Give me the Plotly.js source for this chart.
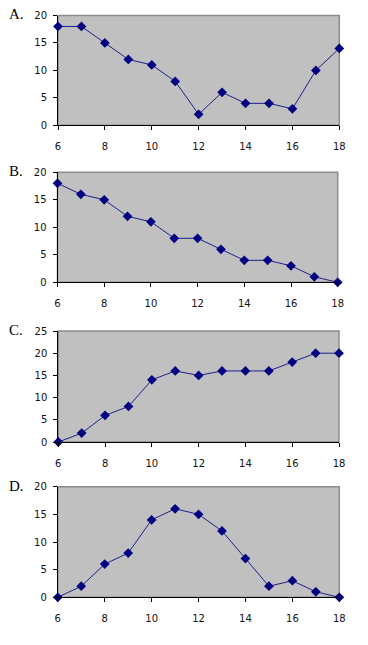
<!DOCTYPE html>
<html>
<head>
<meta charset="utf-8">
<script src="https://cdn.plot.ly/plotly-3.0.1.min.js"></script>
<style>
html,body{margin:0;padding:0;background:#fff;}
#chart{width:368px;height:645px;}
</style>
</head>
<body>
<div id="chart"></div>
<script>
const xValues = [6, 7, 8, 9, 10, 11, 12, 13, 14, 15, 16, 17, 18];
const seriesA = [18, 18, 15, 12, 11, 8, 2, 6, 4, 4, 3, 10, 14];
const seriesB = [18, 16, 15, 12, 11, 8, 8, 6, 4, 4, 3, 1, 0];
const seriesC = [0, 2, 6, 8, 14, 16, 15, 16, 16, 16, 18, 20, 20];
const seriesD = [0, 2, 6, 8, 14, 16, 15, 12, 7, 2, 3, 1, 0];
const panelLabels = ["A.", "B.", "C.", "D."];
const yMax = [20, 20, 25, 20];

const allSeries = [seriesA, seriesB, seriesC, seriesD];
const W = 368, H = 645;
const boxes = [
  {l: 58, r: 339.3, t: 15.5, b: 125.3},
  {l: 57.5, r: 337.7, t: 172.3, b: 282.3},
  {l: 58.3, r: 339, t: 331, b: 442},
  {l: 57.8, r: 339.3, t: 486.7, b: 597.3}
];

const traces = [];
const layout = {
  width: W, height: H,
  margin: {l: 0, r: 0, t: 0, b: 0},
  paper_bgcolor: '#ffffff',
  plot_bgcolor: '#c0c0c0',
  showlegend: false,
  shapes: [],
  annotations: []
};

const tickFont = {family: 'DejaVu Sans, Verdana, sans-serif', size: 10, color: '#111'};

allSeries.forEach((s, i) => {
  const n = i === 0 ? '' : String(i + 1);
  traces.push({
    x: xValues, y: s,
    xaxis: 'x' + n, yaxis: 'y' + n,
    type: 'scatter', mode: 'lines+markers',
    line: {color: '#1f1f8a', width: 1},
    marker: {symbol: 'diamond', size: 7.5, color: '#000080'},
    cliponaxis: false,
    hoverinfo: 'skip'
  });
  const b = boxes[i];
  layout['xaxis' + n] = {
    domain: [b.l / W, b.r / W],
    anchor: 'y' + n,
    range: [6, 18],
    tickmode: 'linear', tick0: 6, dtick: 2,
    ticks: 'outside', ticklen: 4, tickcolor: '#000', tickwidth: 1,
    showline: true, linecolor: '#000', linewidth: 1,
    showgrid: false, zeroline: false,
    ticklabelstandoff: 8,
    tickfont: tickFont,
    fixedrange: true
  };
  layout['yaxis' + n] = {
    domain: [1 - b.b / H, 1 - b.t / H],
    anchor: 'x' + n,
    range: [0, yMax[i]],
    tickmode: 'linear', tick0: 0, dtick: 5,
    ticks: 'outside', ticklen: 4, tickcolor: '#000', tickwidth: 1,
    showline: true, linecolor: '#000', linewidth: 1,
    showgrid: false, zeroline: false,
    ticklabelstandoff: 4,
    tickfont: tickFont,
    fixedrange: true
  };
  layout.shapes.push({
    type: 'rect', xref: 'x' + n + ' domain', yref: 'y' + n + ' domain',
    x0: 0, x1: 1, y0: 0, y1: 1,
    line: {color: '#8c8c8c', width: 1.5}, layer: 'below'
  });
  layout.annotations.push({
    text: panelLabels[i], xref: 'paper', yref: 'paper',
    x: 7 / W, y: 1 - (b.t - 1) / H,
    xanchor: 'left', yanchor: 'middle', showarrow: false,
    font: {family: 'Liberation Serif, Times New Roman, serif', size: 15, color: '#000'}
  });
});

Plotly.newPlot('chart', traces, layout, {staticPlot: true, displayModeBar: false});
</script>
</body>
</html>
